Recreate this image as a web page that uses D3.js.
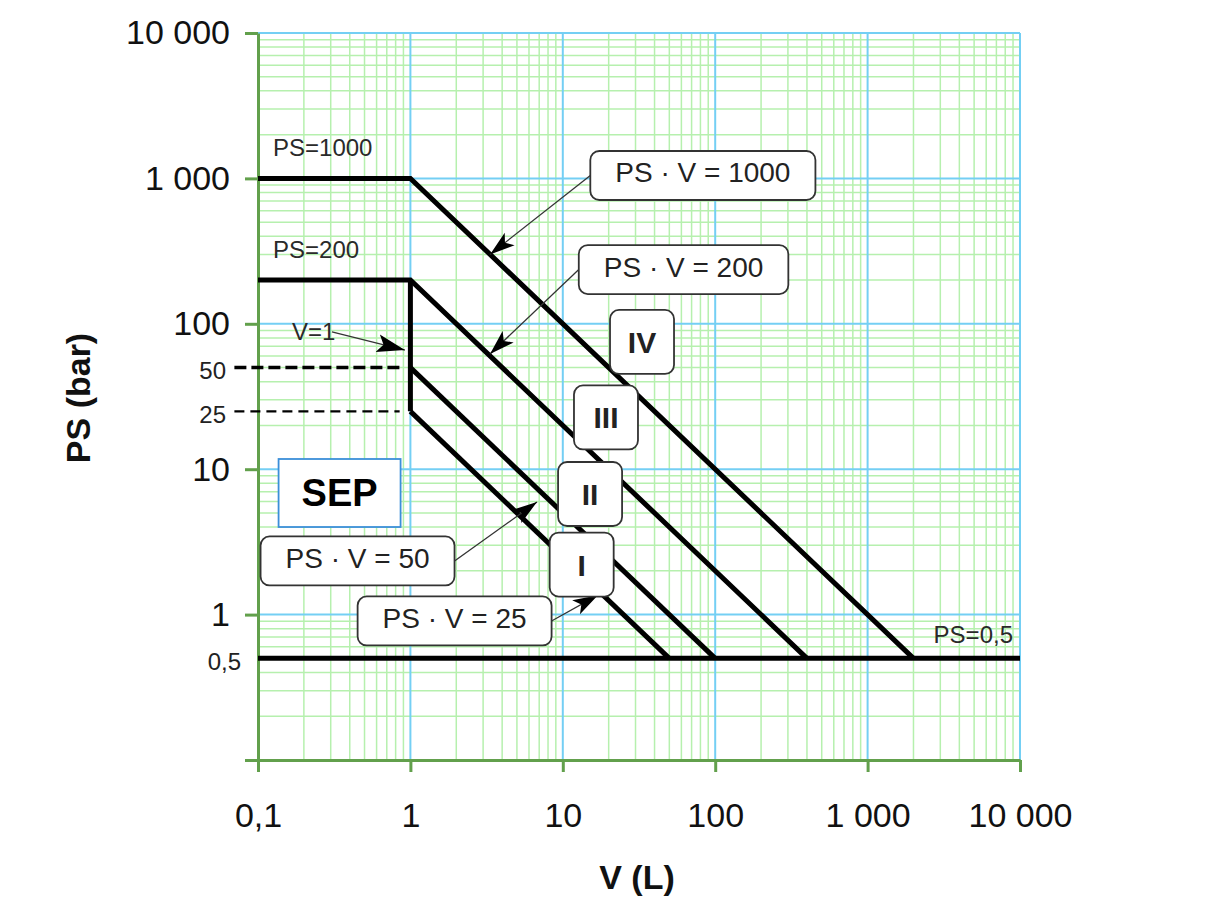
<!DOCTYPE html>
<html>

<head>
    <meta charset="utf-8" />
    <title>PS - V</title>
    <script src="https://cdn.jsdelivr.net/npm/d3@7"></script>
</head>

<body>
    <style>
        html,
        body {
            margin: 0;
            padding: 0;
            background: #fff;
        }

        #chart {
            display: block;
            font-family: "Liberation Sans", Arial, sans-serif;
        }

        .grid-minor {
            stroke: #b6f0ae;
            stroke-width: 1.5px;
        }

        .grid-major {
            stroke: #74cff4;
            stroke-width: 2px;
        }

        .axis .domain,
        .axis line {
            stroke: #62a04c;
            stroke-width: 3px;
        }

        .axis text {
            fill: #111;
            font-size: 34px;
            font-family: "Liberation Sans", Arial, sans-serif;
        }

        .limit {
            fill: none;
            stroke: #000;
            stroke-width: 5px;
            stroke-linejoin: miter;
        }

        .note {
            fill: #2a2a2a;
            font-size: 24px;
        }

        .leader {
            stroke: #333;
            stroke-width: 1.3px;
        }

        .callout rect {
            fill: #fff;
            stroke: #333;
            stroke-width: 1.8px;
        }

        .callout text {
            fill: #222;
            font-size: 28px;
            text-anchor: middle;
        }

        .cat text {
            font-weight: bold;
            font-size: 30px;
        }
    </style>
    <div id="container"></div>
    <script>
        // axes
        const vTicks = [0.1, 1, 10, 100, 1000, 10000];
        const vTickLabels = ["0,1", "1", "10", "100", "1 000", "10 000"];
        const psTicks = [0.1, 1, 10, 100, 1000, 10000];
        const psTickLabels = ["", "1", "10", "100", "1 000", "10 000"];
        const psExtraTicks = [50, 25, 0.5];
        const psExtraLabels = ["50", "25", "0,5"];

        // limit lines
        const psvProducts = [1000, 200, 50, 25];
        const psPlateaus = [1000, 200];
        const psFloor = 0.5;
        const vBreak = 1;
        const psDashed = [50, 25];
        const vDashed = [0.07, 0.85];

        const limitLabels = ["PS=1000", "PS=200", "PS=0,5"];
        const limitLabelPS = [1000, 200, 0.5];

        // callouts (box centre and arrow tip, in V / PS units)
        const calloutTexts = ["PS · V = 1000", "PS · V = 200", "PS · V = 50", "PS · V = 25"];
        const calloutBoxV = [83, 62, 0.45, 1.95];
        const calloutBoxPS = [1047, 236, 2.34, 0.904];
        const calloutTipV = [3.33, 3.33, 6.77, 17];
        const calloutTipPS = [300, 62, 5.95, 1.36];

        const categories = ["IV", "III", "II", "I"];
        const categoryV = [33.1, 19.2, 15.1, 13.3];
        const categoryPS = [75, 22.7, 6.75, 2.21];

        const sepLabel = ["SEP"];
        const sepV = [0.343];
        const sepPS = [6.86];

        const vNote = ["V=1"];
        const vNoteV = [0.167];
        const vNotePS = [77.4];
        const vNoteTipV = [0.92];
        const vNoteTipPS = [66];

        const width = 1220,
            height = 908;

        const svg = d3.select("#container").append("svg")
            .attr("id", "chart")
            .attr("width", width)
            .attr("height", height);

        const x = d3.scaleLog().domain([0.1, 10000]).range([258, 1020]);
        const y = d3.scaleLog().domain([0.1, 10000]).range([760, 33]);

        const isMajor = v => Math.abs(Math.log10(v) - Math.round(Math.log10(v))) < 1e-9;

        // grid
        const grid = svg.append("g");
        const xt = x.ticks(),
            yt = y.ticks();
        grid.selectAll(".vx").data(xt.filter(v => !isMajor(v))).enter().append("line")
            .attr("class", "grid-minor")
            .attr("x1", d => x(d)).attr("x2", d => x(d))
            .attr("y1", y(0.1)).attr("y2", y(10000));
        grid.selectAll(".hy").data(yt.filter(v => !isMajor(v))).enter().append("line")
            .attr("class", "grid-minor")
            .attr("y1", d => y(d)).attr("y2", d => y(d))
            .attr("x1", x(0.1)).attr("x2", x(10000));
        grid.selectAll(".vxm").data(vTicks.slice(1)).enter().append("line")
            .attr("class", "grid-major")
            .attr("x1", d => x(d)).attr("x2", d => x(d))
            .attr("y1", y(0.1)).attr("y2", y(10000));
        grid.selectAll(".hym").data(psTicks.slice(1)).enter().append("line")
            .attr("class", "grid-major")
            .attr("y1", d => y(d)).attr("y2", d => y(d))
            .attr("x1", x(0.1)).attr("x2", x(10000));

        // axes
        svg.append("g")
            .attr("class", "axis")
            .attr("transform", `translate(0,${y(0.1)})`)
            .call(d3.axisBottom(x).tickValues(vTicks).tickSize(12).tickSizeOuter(0).tickPadding(31)
                .tickFormat((d, i) => vTickLabels[i]));

        svg.append("g")
            .attr("class", "axis")
            .attr("transform", `translate(${x(0.1)},0)`)
            .call(d3.axisLeft(y).tickValues(psTicks).tickSize(13).tickSizeOuter(0).tickPadding(15)
                .tickFormat((d, i) => psTickLabels[i]));

        const extraRight = [226, 226, 241];
        svg.selectAll(".extra").data(psExtraTicks).enter().append("text")
            .attr("x", (d, i) => extraRight[i])
            .attr("y", d => y(d) + 3)
            .attr("dy", "0.35em")
            .attr("text-anchor", "end")
            .attr("font-size", 24)
            .attr("fill", "#222")
            .text((d, i) => psExtraLabels[i]);

        // axis titles
        svg.append("text")
            .attr("x", 637).attr("y", 889)
            .attr("text-anchor", "middle")
            .attr("font-weight", "bold")
            .attr("font-size", 34)
            .attr("fill", "#111")
            .text("V (L)");
        svg.append("text")
            .attr("transform", "translate(90,398) rotate(-90)")
            .attr("text-anchor", "middle")
            .attr("font-weight", "bold")
            .attr("font-size", 34)
            .attr("fill", "#111")
            .text("PS (bar)");

        // dashed reference lines
        const dashStyle = [{ w: 3.5, d: "12,5" }, { w: 2.3, d: "10,6" }];
        svg.selectAll(".dash").data(psDashed).enter().append("line")
            .attr("x1", x(vDashed[0])).attr("x2", x(vDashed[1]))
            .attr("y1", d => y(d)).attr("y2", d => y(d))
            .attr("stroke", "#000")
            .attr("stroke-width", (d, i) => dashStyle[i].w)
            .attr("stroke-dasharray", (d, i) => dashStyle[i].d);

        // limit lines
        const paths = psvProducts.map(p => {
            const pts = [];
            if (psPlateaus.includes(p)) pts.push([0.1, p]);
            pts.push([vBreak, p / vBreak]);
            pts.push([p / psFloor, psFloor]);
            return pts;
        });
        paths.push([[vBreak, d3.min(psPlateaus)], [vBreak, d3.min(psvProducts)]]);
        paths.push([[0.1, psFloor], [10000, psFloor]]);

        const line = d3.line().x(d => x(d[0])).y(d => y(d[1]));
        svg.selectAll(".limit").data(paths).enter().append("path")
            .attr("class", "limit")
            .attr("d", line);

        // limit labels
        svg.selectAll(".note").data(limitLabels).enter().append("text")
            .attr("class", "note")
            .attr("x", (d, i) => i < 2 ? x(0.1) + 15 : x(10000) - 7)
            .attr("y", (d, i) => y(limitLabelPS[i]) - (i < 2 ? 22 : 15))
            .attr("text-anchor", (d, i) => i < 2 ? "start" : "end")
            .text(d => d);

        // arrow markers
        const defs = svg.append("defs");
        defs.append("marker")
            .attr("id", "arrow")
            .attr("markerUnits", "userSpaceOnUse")
            .attr("viewBox", "0 -9 26 18")
            .attr("refX", 25).attr("refY", 0)
            .attr("markerWidth", 26).attr("markerHeight", 18)
            .attr("orient", "auto")
            .append("path")
            .attr("d", "M0,-8L25,0L0,8L6,0Z")
            .attr("fill", "#000");
        defs.append("marker")
            .attr("id", "arrowBig")
            .attr("markerUnits", "userSpaceOnUse")
            .attr("viewBox", "0 -10 30 20")
            .attr("refX", 28).attr("refY", 0)
            .attr("markerWidth", 30).attr("markerHeight", 20)
            .attr("orient", "auto")
            .append("path")
            .attr("d", "M0,-9L28,0L0,9L6,0Z")
            .attr("fill", "#000");

        // V=1 note
        svg.append("text")
            .attr("class", "note")
            .attr("x", x(vNoteV[0])).attr("y", y(vNotePS[0]))
            .text(vNote[0]);
        svg.append("line")
            .attr("class", "leader")
            .attr("x1", x(vNoteV[0]) + 40).attr("y1", y(vNotePS[0]) - 8)
            .attr("x2", x(vNoteTipV[0])).attr("y2", y(vNoteTipPS[0]))
            .attr("marker-end", "url(#arrowBig)");

        // callouts
        const callouts = svg.selectAll(".callout").data(calloutTexts).enter().append("g")
            .attr("class", "callout");
        callouts.each(function(d, i) {
            const g = d3.select(this);
            const cx = x(calloutBoxV[i]),
                cy = y(calloutBoxPS[i]);
            const t = g.append("text")
                .attr("x", cx).attr("y", cy + 7)
                .text(d);
            const w = t.node().getComputedTextLength() + 50,
                h = 49;
            const tx = x(calloutTipV[i]),
                ty = y(calloutTipPS[i]);
            const sx = tx < cx ? cx - w / 2 : cx + w / 2;
            g.insert("line", "text")
                .attr("class", "leader")
                .attr("x1", sx).attr("y1", cy)
                .attr("x2", tx).attr("y2", ty)
                .attr("marker-end", "url(#arrow)");
            g.insert("rect", "text")
                .attr("x", cx - w / 2).attr("y", cy - h / 2)
                .attr("width", w).attr("height", h)
                .attr("rx", 9);
        });

        // category boxes
        const cats = svg.selectAll(".cat").data(categories).enter().append("g")
            .attr("class", "callout cat")
            .attr("transform", (d, i) => `translate(${x(categoryV[i])},${y(categoryPS[i])})`);
        cats.append("rect")
            .attr("x", -32).attr("y", -32)
            .attr("width", 64).attr("height", 64)
            .attr("rx", 9);
        cats.append("text")
            .attr("y", 11)
            .text(d => d);

        // SEP box
        const sep = svg.selectAll(".sep").data(sepLabel).enter().append("g")
            .attr("transform", (d, i) => `translate(${x(sepV[i])},${y(sepPS[i])})`);
        sep.append("rect")
            .attr("x", -61).attr("y", -34)
            .attr("width", 122).attr("height", 68)
            .attr("fill", "#fff")
            .attr("stroke", "#3b8fd9")
            .attr("stroke-width", 1.8);
        sep.append("text")
            .attr("y", 13)
            .attr("text-anchor", "middle")
            .attr("font-weight", "bold")
            .attr("font-size", 38)
            .attr("fill", "#000")
            .text(d => d);
    </script>
</body>

</html>
